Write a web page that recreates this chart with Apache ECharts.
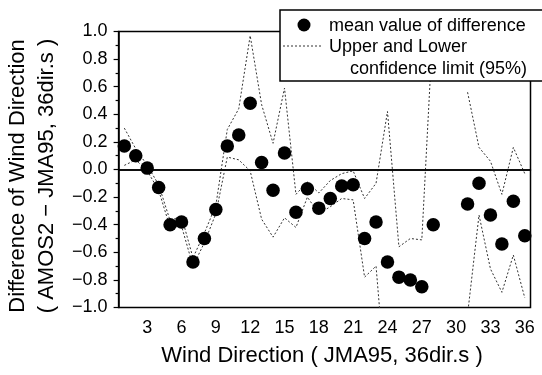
<!DOCTYPE html>
<html>
<head>
<meta charset="utf-8">
<script src="https://cdn.jsdelivr.net/npm/echarts@6/dist/echarts.min.js"></script>
<style>
  html, body { margin: 0; padding: 0; background: #fff; }
  #chart { width: 542px; height: 375px; }
</style>
</head>
<body>
<div id="chart"></div>
<script>
// Wind direction classes (36 directions)
const directions = Array.from({ length: 36 }, (_, i) => String(i + 1));

// Mean difference AMOS2 - JMA95 per direction (no data for 29, 30)
const meanDiff = [0.17, 0.10, 0.01, -0.13, -0.40, -0.38, -0.67, -0.50, -0.29, 0.17,
                  0.25, 0.48, 0.05, -0.15, 0.12, -0.31, -0.14, -0.28, -0.21, -0.12,
                  -0.11, -0.50, -0.38, -0.67, -0.78, -0.80, -0.85, -0.40, null, null,
                  -0.25, -0.10, -0.33, -0.54, -0.23, -0.48];

// Upper 95% confidence limit
const upperLimit = [0.30, 0.15, 0.03, -0.11, -0.37, -0.34, -0.64, -0.46, -0.26, 0.29,
                    0.44, 0.97, 0.47, 0.19, 0.59, -0.18, -0.09, -0.17, -0.08, -0.03,
                    -0.01, -0.21, -0.10, 0.42, -0.56, -0.50, -0.51, 1.08, null, null,
                    0.56, 0.16, 0.06, -0.18, 0.16, -0.03];

// Lower 95% confidence limit
const lowerLimit = [0.03, 0.07, -0.01, -0.15, -0.42, -0.41, -0.70, -0.53, -0.32, 0.09,
                    0.07, -0.01, -0.36, -0.49, -0.35, -0.42, -0.20, -0.32, -0.27, -0.21,
                    -0.22, -0.78, -0.70, -1.70, -1.60, -1.50, -1.50, -1.60, null, null,
                    -1.05, -0.33, -0.72, -0.89, -0.62, -0.93];

const FONT = '"Liberation Sans", Arial, sans-serif';
const chart = echarts.init(document.getElementById('chart'));

const limitStyle = { color: '#333', width: 1, type: [2, 2] };

chart.setOption({
  animation: false,
  backgroundColor: '#fff',
  grid: {
    left: 118.6, right: 11.5, top: 31.5, bottom: 67.5,
    show: true, borderColor: '#000', borderWidth: 1.5, backgroundColor: 'transparent'
  },
  xAxis: [
    {
      type: 'category',
      data: directions,
      boundaryGap: true,
      axisLine: { lineStyle: { color: '#000', width: 1.5 } },
      axisTick: { alignWithLabel: true, interval: 0, length: 3, lineStyle: { color: '#000', width: 1.2 } },
      axisLabel: {
        interval: (i) => (i + 1) % 3 === 0,
        margin: 12, fontSize: 18, color: '#000', fontFamily: FONT
      },
      splitLine: { show: false }
    },
    {
      type: 'category',
      data: directions,
      boundaryGap: true,
      position: 'bottom',
      axisLine: { show: false },
      axisTick: { alignWithLabel: true, interval: (i) => (i + 1) % 3 === 0, length: 6, lineStyle: { color: '#000', width: 1.2 } },
      axisLabel: { show: false },
      splitLine: { show: false }
    }
  ],
  yAxis: {
    type: 'value',
    min: -1, max: 1, interval: 0.2,
    axisLine: { show: true, lineStyle: { color: '#000', width: 1.5 } },
    axisTick: { show: true, length: 5, lineStyle: { color: '#000', width: 1.2 } },
    minorTick: { show: true, splitNumber: 2, length: 3, lineStyle: { color: '#000', width: 1.2 } },
    axisLabel: {
      margin: 11, fontSize: 18, color: '#000', fontFamily: FONT,
      formatter: (v) => Math.abs(v) < 1e-9 ? '0.0' : (v < 0 ? '\u2212' : '') + Math.abs(v).toFixed(1)
    },
    splitLine: { show: false }
  },
  series: [
    {
      name: 'upper', type: 'line', data: upperLimit, showSymbol: false,
      connectNulls: false, clip: true, lineStyle: limitStyle, z: 2
    },
    {
      name: 'lower', type: 'line', data: lowerLimit, showSymbol: false,
      connectNulls: false, clip: true, lineStyle: limitStyle, z: 2
    },
    {
      name: 'mean', type: 'scatter', data: meanDiff, symbol: 'circle', symbolSize: 13.5,
      itemStyle: { color: '#000', opacity: 1 }, z: 3,
      markLine: {
        silent: true, symbol: 'none', label: { show: false },
        lineStyle: { color: '#000', width: 1.5, type: 'solid' },
        data: [{ yAxis: 0 }]
      }
    }
  ],
  graphic: [
    // legend box
    { type: 'rect', z: 100, shape: { x: 280, y: 10, width: 270, height: 71 },
      style: { fill: '#fff', stroke: '#000', lineWidth: 1.5 } },
    { type: 'circle', z: 101, shape: { cx: 304, cy: 25, r: 6.5 }, style: { fill: '#000' } },
    { type: 'line', z: 101, shape: { x1: 283, y1: 46, x2: 322, y2: 46 },
      style: { stroke: '#333', lineWidth: 1, lineDash: [2, 2] } },
    { type: 'text', z: 101, x: 329, y: 26,
      style: { text: 'mean value of difference', font: '18px ' + FONT, fill: '#000',
               align: 'left', verticalAlign: 'middle', textAlign: 'left', textVerticalAlign: 'middle' } },
    { type: 'text', z: 101, x: 329, y: 47.5,
      style: { text: 'Upper and Lower', font: '18px ' + FONT, fill: '#000',
               align: 'left', verticalAlign: 'middle', textAlign: 'left', textVerticalAlign: 'middle' } },
    { type: 'text', z: 101, x: 350, y: 69,
      style: { text: 'confidence limit (95%)', font: '18px ' + FONT, fill: '#000',
               align: 'left', verticalAlign: 'middle', textAlign: 'left', textVerticalAlign: 'middle' } },
    // axis titles
    { type: 'text', z: 101, x: 18, y: 176, rotation: Math.PI / 2,
      style: { text: 'Difference of Wind Direction', font: '22px ' + FONT, fill: '#000',
               align: 'center', verticalAlign: 'middle', textAlign: 'center', textVerticalAlign: 'middle' } },
    { type: 'text', z: 101, x: 47, y: 176, rotation: Math.PI / 2,
      style: { text: '( AMOS2 \u2212 JMA95, 36dir.s )', font: '22px ' + FONT, fill: '#000',
               align: 'center', verticalAlign: 'middle', textAlign: 'center', textVerticalAlign: 'middle' } },
    { type: 'text', z: 101, x: 322, y: 356,
      style: { text: 'Wind Direction ( JMA95, 36dir.s )', font: '22px ' + FONT, fill: '#000',
               align: 'center', verticalAlign: 'middle', textAlign: 'center', textVerticalAlign: 'middle' } }
  ]
});
</script>
</body>
</html>
